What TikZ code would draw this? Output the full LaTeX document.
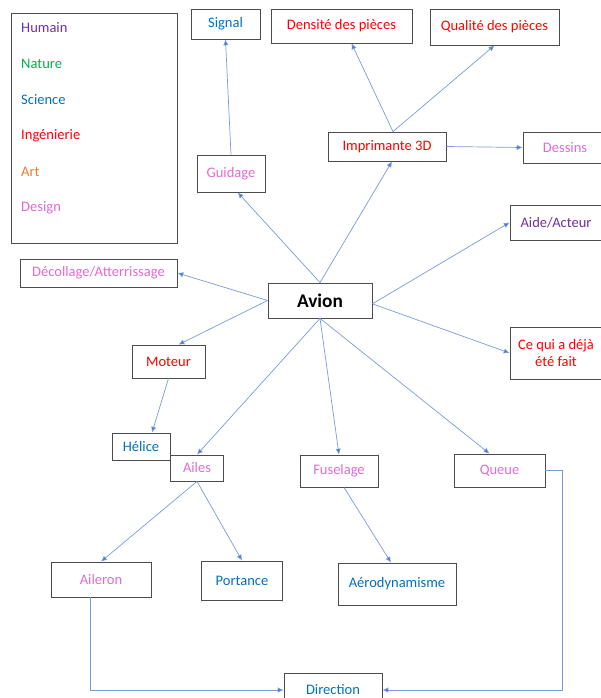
\documentclass[tikz,border=0pt]{standalone}
\usepackage{fontspec}
\setmainfont{Carlito}
\usepackage{tikz}
\usetikzlibrary{positioning}
\usetikzlibrary{shapes.geometric, arrows.meta}

\definecolor{humain}{RGB}{112,48,160}
\definecolor{nature}{RGB}{0,176,80}
\definecolor{science}{RGB}{0,112,192}
\definecolor{inge}{RGB}{255,0,0}
\definecolor{art}{RGB}{237,125,49}
\definecolor{design}{RGB}{226,106,213}
\definecolor{lien}{RGB}{120,155,220}
\definecolor{pointe}{RGB}{68,114,196}

\tikzset{
    boite/.style={draw=black!70, line width=0.7pt, rectangle, inner sep=0pt,
        font=\fontsize{12.4}{14.5}\selectfont, align=center},
    fleche/.style={draw=lien, line width=0.6pt, -{Latex[length=5pt,width=4.5pt,fill=pointe]}},
    legende/.style={anchor=west, inner sep=0pt, font=\fontsize{12.4}{14.5}\selectfont}
}

\begin{document}
\begin{tikzpicture}[x=0.03cm, y=-0.03cm]
        \useasboundingbox (0,0) rectangle (601,698);

        % legende
        \draw [draw=black!70, line width=0.7pt] (11,13) rectangle (177,243);
        \node [legende, text=humain] (lhumain) at (21,28) {Humain};
        \node [legende, text=nature] (lnature) at (21,64) {Nature};
        \node [legende, text=science] (lscience) at (21,100) {Science};
        \node [legende, text=inge] (linge) at (21,136) {Ingénierie};
        \node [legende, text=art] (lart) at (21,172) {Art};
        \node [legende, text=design] (ldesign) at (21,208) {Design};

        \node [boite, text=science, minimum width=2.07cm, minimum height=0.9cm] (signal) at (225.5,24) {Signal};
        \node [boite, text=inge, minimum width=4.23cm, minimum height=1.02cm] (densite) at (341.5,26) {Densité des pièces};
        \node [boite, text=inge, minimum width=3.87cm, minimum height=1.08cm] (qualite) at (494.5,27) {Qualité des pièces};
        \node [boite, text=inge, minimum width=3.54cm, minimum height=0.87cm] (imprimante) at (387,146.5) {Imprimante 3D};
        \node [boite, text=design, minimum width=2.52cm, minimum height=0.93cm] (dessins) at (565,147.5) {Dessins};
        \node [boite, text=design, minimum width=2.04cm, minimum height=1.11cm] (guidage) at (231,173.5) {Guidage};
        \node [boite, text=humain, minimum width=2.76cm, minimum height=1.05cm] (aide) at (556,222.5) {Aide/Acteur};
        \node [boite, text=design, minimum width=4.71cm, minimum height=0.84cm] (decollage) at (98.5,273) {Décollage/Atterrissage};
        \node [boite, font=\fontsize{16.5}{18}\selectfont\bfseries, minimum width=3.12cm, minimum height=1.05cm] (avion) at (320,300.5) {Avion};
        \node [boite, text=inge, minimum width=2.76cm, minimum height=1.56cm] (cequi) at (556,353) {Ce qui a déjà\\été fait};
        \node [boite, text=inge, minimum width=2.19cm, minimum height=0.99cm] (moteur) at (168.5,361.5) {Moteur};
        \node [boite, text=science, minimum width=1.74cm, minimum height=0.81cm] (helice) at (141,446.5) {Hélice};
        \node [boite, text=design, minimum width=1.6cm, minimum height=0.78cm] (ailes) at (197,468) {Ailes};
        \node [boite, text=design, minimum width=2.34cm, minimum height=0.96cm] (fuselage) at (339,471) {Fuselage};
        \node [boite, text=design, minimum width=2.73cm, minimum height=0.99cm] (queue) at (499.5,470.5) {Queue};
        \node [boite, text=design, minimum width=3.0cm, minimum height=1.05cm] (aileron) at (101,579.5) {Aileron};
        \node [boite, text=science, minimum width=2.43cm, minimum height=1.17cm] (portance) at (242,580.5) {Portance};
        \node [boite, text=science, minimum width=3.54cm, minimum height=1.26cm] (aero) at (397,584) {Aérodynamisme};
        \node [boite, text=science, minimum width=2.94cm, minimum height=1.02cm] (direction) at (333,690) {Direction};

        \draw [fleche] (guidage.north) -- (signal.south);
        \draw [fleche] ([xshift=0.18cm]imprimante.north) -- ([xshift=0.3cm]densite.south);
        \draw [fleche] ([xshift=0.18cm]imprimante.north) -- (qualite.south);
        \draw [fleche] (imprimante.east) -- (dessins.west);

        \draw [fleche] (avion.north) -- ([xshift=0.2cm]guidage.south);
        \draw [fleche] (avion.north) -- ([xshift=0.15cm]imprimante.south);
        \draw [fleche] ([yshift=-0.1cm]avion.east) -- (aide.west);
        \draw [fleche] ([yshift=-0.1cm]avion.east) -- (cequi.west);
        \draw [fleche] (avion.west) -- (decollage.east);
        \draw [fleche] (avion.west) -- ([xshift=0.3cm]moteur.north);
        \draw [fleche] (avion.south) -- (ailes.north);
        \draw [fleche] (avion.south) -- (fuselage.north);
        \draw [fleche] (avion.south) -- ([xshift=-0.3cm]queue.north);

        \draw [fleche] (moteur.south) -- ([xshift=0.33cm]helice.north);
        \draw [fleche] (ailes.south) -- (aileron.north);
        \draw [fleche] (ailes.south) -- (portance.north);
        \draw [fleche] ([xshift=0.15cm]fuselage.south) -- ([xshift=-0.18cm]aero.north);

        \draw [fleche] ([xshift=-0.31cm]aileron.south) |- (direction.west);
        \draw [fleche] (queue.east) -- ++(17,0) |- (direction.east);

    \end{tikzpicture}
\end{document}
